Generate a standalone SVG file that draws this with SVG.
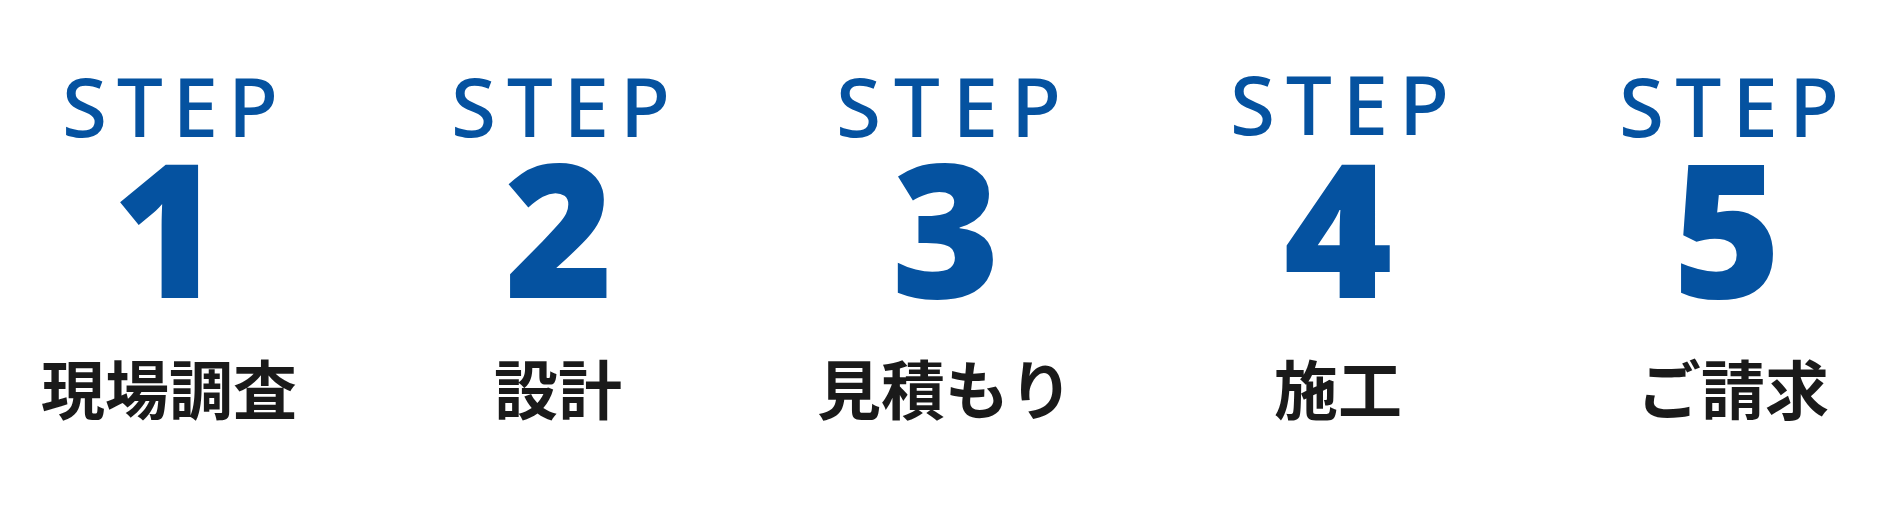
<svg xmlns="http://www.w3.org/2000/svg" width="1894" height="530" viewBox="0 0 1894 530">
  <style>
    .step { font-family: "Noto Sans", "Liberation Sans", sans-serif; font-weight: 500; font-size: 82px; fill: #0552A0; }
    .num { font-family: "Noto Sans", "Liberation Sans", sans-serif; font-weight: 900; font-size: 186px; fill: #0552A0; text-anchor: middle; }
    .label { font-family: "Noto Sans CJK JP", "Noto Sans", sans-serif; font-weight: 700; font-size: 64px; fill: #1a1a1a; text-anchor: middle; }
  </style>
  <rect width="1894" height="530" fill="#ffffff"/>
  <g id="step1">
    <text class="step" x="62" y="137" textLength="216" lengthAdjust="spacing">STEP</text>
    <text class="num" x="167" y="298">1</text>
    <text class="label" x="169" y="414">現場調査</text>
  </g>
  <g id="step2">
    <text class="step" x="451" y="137" textLength="219" lengthAdjust="spacing">STEP</text>
    <text class="num" x="559" y="298">2</text>
    <text class="label" x="558" y="414">設計</text>
  </g>
  <g id="step3">
    <text class="step" x="836" y="137" textLength="225" lengthAdjust="spacing">STEP</text>
    <text class="num" x="946" y="298">3</text>
    <text class="label" x="945" y="414">見積もり</text>
  </g>
  <g id="step4">
    <text class="step" x="1230" y="135" textLength="219" lengthAdjust="spacing">STEP</text>
    <text class="num" x="1338" y="298">4</text>
    <text class="label" x="1338" y="414">施工</text>
  </g>
  <g id="step5">
    <text class="step" x="1619" y="137" textLength="220" lengthAdjust="spacing">STEP</text>
    <text class="num" x="1727" y="298">5</text>
    <text class="label" x="1733" y="414">ご請求</text>
  </g>
  <g id="connectors"></g>
</svg>
